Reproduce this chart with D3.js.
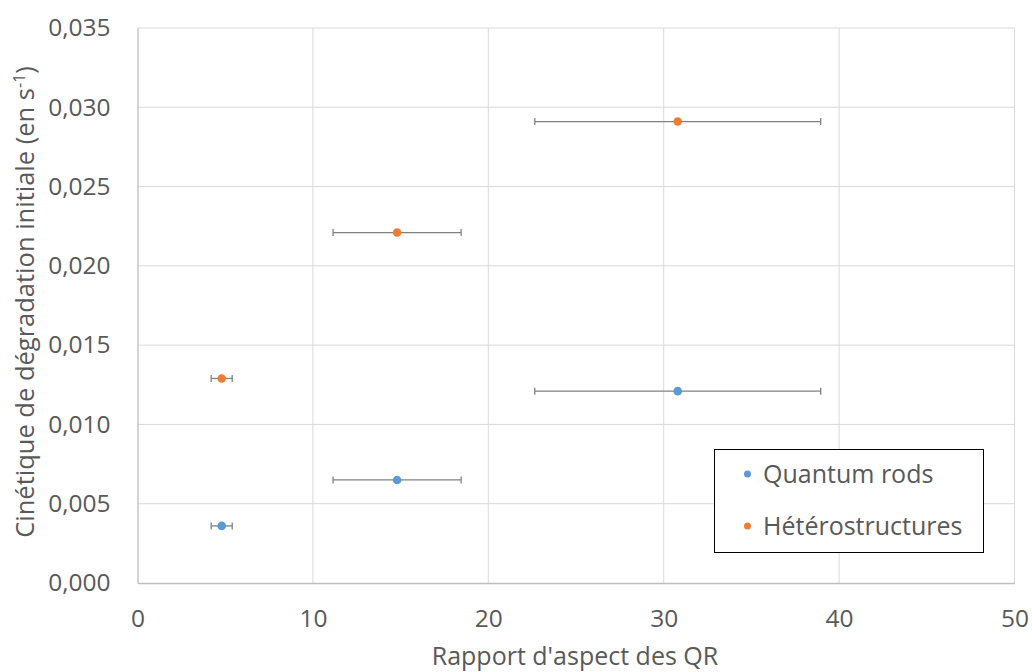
<!DOCTYPE html>
<html><head><meta charset="utf-8">
<script src="https://cdn.jsdelivr.net/npm/d3@7"></script>
<style>body{margin:0;background:#fff}svg{display:block}text{font-family:"Open Sans",sans-serif;fill:#595959}</style>
</head><body>
<script>
const seriesNames = ["Quantum rods", "Hétérostructures"];
const seriesColors = ["#5B9BD5", "#ED7D31"];
const xValues = [4.8, 14.8, 30.8];
const xErrors = [0.6, 3.65, 8.15];
const rodsY = [0.0036, 0.0065, 0.0121];
const heteroY = [0.0129, 0.0221, 0.0291];
const xTicks = [0, 10, 20, 30, 40, 50];
const yTicks = [0, 0.005, 0.010, 0.015, 0.020, 0.025, 0.030, 0.035];

const W = 1032, H = 672;
const m = {left: 137.5, right: 1014.5, top: 28, bottom: 583};
const svg = d3.select("body").append("svg").attr("width", W).attr("height", H);
const x = d3.scaleLinear().domain([0, 50]).range([m.left, m.right]);
const y = d3.scaleLinear().domain([0, 0.035]).range([m.bottom, m.top]);
const FF = "'Open Sans', sans-serif";

// grid
svg.append("g").selectAll("line").data(yTicks.slice(1)).join("line")
  .attr("x1", m.left).attr("x2", m.right).attr("y1", d => y(d)).attr("y2", d => y(d))
  .attr("stroke", "#d9d9d9").attr("stroke-width", 1);
svg.append("g").selectAll("line").data(xTicks.slice(1)).join("line")
  .attr("y1", m.top).attr("y2", m.bottom).attr("x1", d => x(d)).attr("x2", d => x(d))
  .attr("stroke", "#d9d9d9").attr("stroke-width", 1);

// axes
const fmt = d => d3.format(".3f")(d).replace(".", ",");
const xAxis = svg.append("g").attr("transform", `translate(0,${m.bottom})`)
  .call(d3.axisBottom(x).tickValues(xTicks).tickSize(0).tickPadding(27));
const yAxis = svg.append("g").attr("transform", `translate(${m.left},0)`)
  .call(d3.axisLeft(y).tickValues(yTicks).tickFormat(fmt).tickSize(0).tickPadding(27));
[xAxis, yAxis].forEach(a => {
  a.select(".domain").attr("stroke", "#bfbfbf").attr("stroke-width", 1.3);
  a.selectAll("text").style("font-size", "24.5px").style("fill", "#595959").style("font-family", FF);
});

// titles
svg.append("text").attr("x", 575).attr("y", 665)
  .attr("text-anchor", "middle").style("font-size", "25px").text("Rapport d'aspect des QR");
const yt = svg.append("text").attr("transform", `translate(34,302) rotate(-90)`)
  .attr("text-anchor", "middle").style("font-size", "25.5px");
yt.append("tspan").text("Cinétique de dégradation initiale (en s");
yt.append("tspan").attr("dy", -9).style("font-size", "16px").text("-1");
yt.append("tspan").attr("dy", 9).text(")");

// data
const series = [rodsY, heteroY];
series.forEach((ys, si) => {
  const pts = xValues.map((xv, i) => ({x: xv, y: ys[i], e: xErrors[i]}));
  const g = svg.append("g");
  g.selectAll("line.eb").data(pts).join("line").attr("class", "eb")
    .attr("x1", d => x(d.x - d.e)).attr("x2", d => x(d.x + d.e))
    .attr("y1", d => y(d.y)).attr("y2", d => y(d.y))
    .attr("stroke", "#808080").attr("stroke-width", 1.3);
  ["-", "+"].forEach(s => {
    g.selectAll("line.cap" + (s === "-" ? "l" : "r")).data(pts).join("line").attr("class", "cap" + (s === "-" ? "l" : "r"))
      .attr("x1", d => x(s === "-" ? d.x - d.e : d.x + d.e)).attr("x2", d => x(s === "-" ? d.x - d.e : d.x + d.e))
      .attr("y1", d => y(d.y) - 3.5).attr("y2", d => y(d.y) + 3.5)
      .attr("stroke", "#808080").attr("stroke-width", 1.3);
  });
  g.selectAll("circle").data(pts).join("circle")
    .attr("cx", d => x(d.x)).attr("cy", d => y(d.y)).attr("r", 4.3)
    .attr("fill", seriesColors[si]);
});

// legend
const lg = svg.append("g");
lg.append("rect").attr("x", 714.5).attr("y", 449.5).attr("width", 269).attr("height", 103)
  .attr("fill", "#fff").attr("stroke", "#000").attr("stroke-width", 1);
seriesNames.forEach((n, i) => {
  const cy = 474 + i * 52;
  lg.append("circle").attr("cx", 747.5).attr("cy", cy).attr("r", 3.5).attr("fill", seriesColors[i]);
  lg.append("text").attr("x", 763).attr("y", cy + 9).style("font-size", "25px").style("font-family", FF).text(n);
});
</script>
</body></html>
